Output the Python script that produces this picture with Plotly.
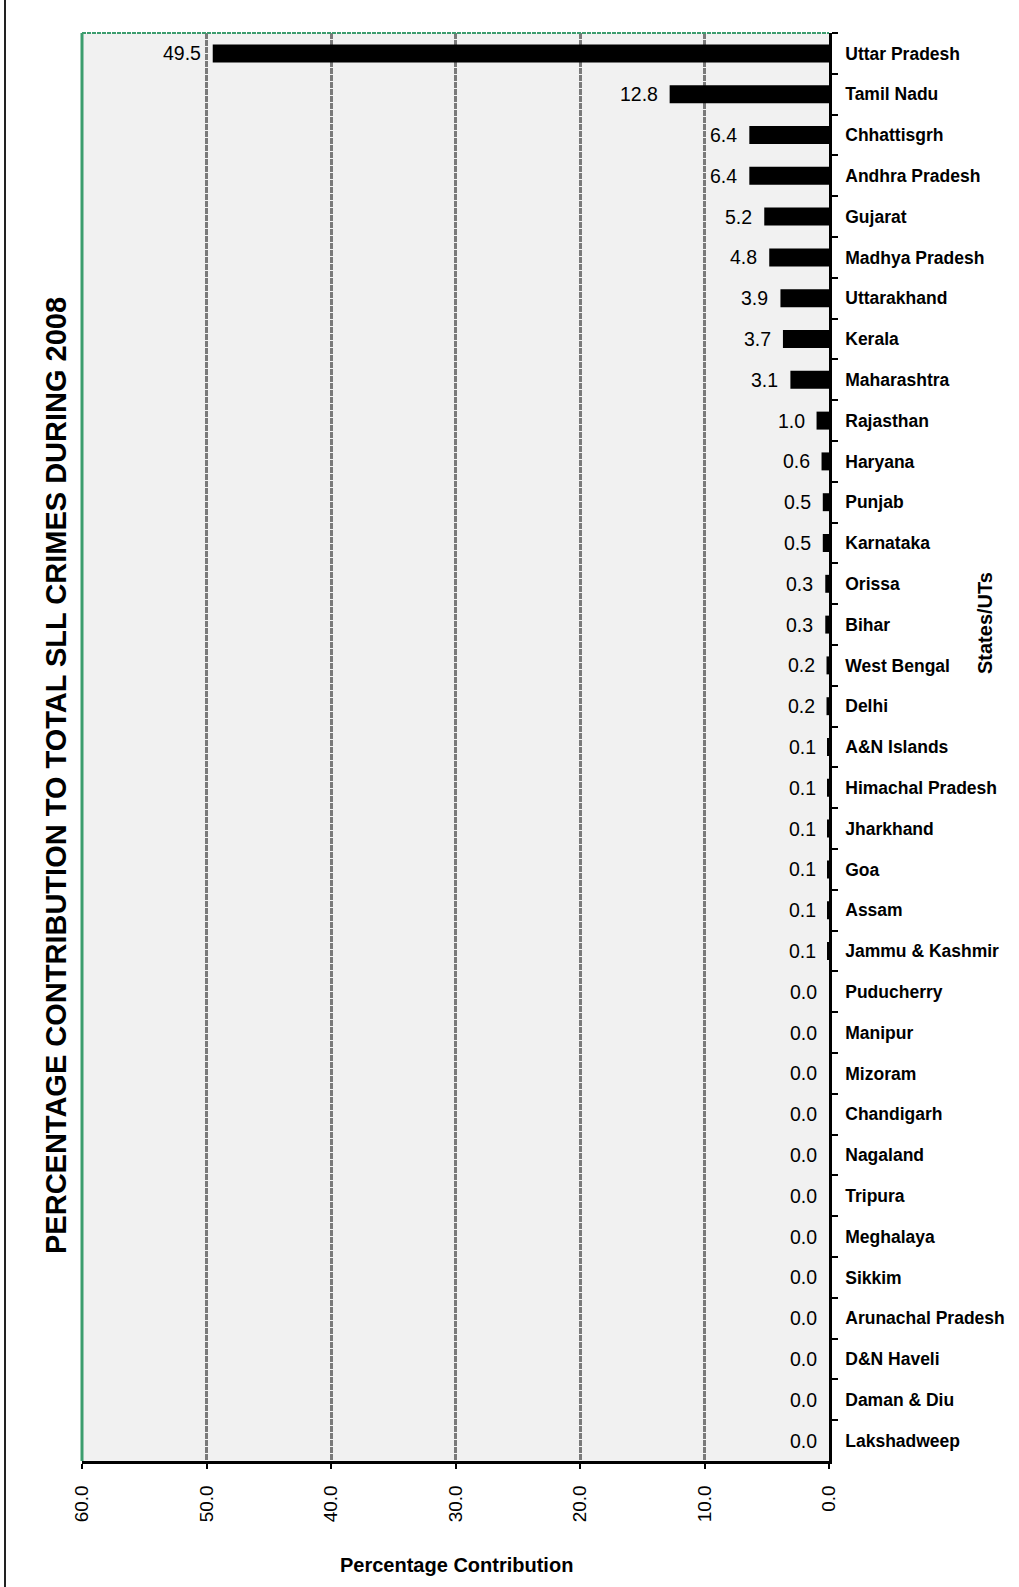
import plotly.graph_objects as go

# Share of total SLL crimes by State/UT, 2008 (%)
states = [
    "Uttar Pradesh", "Tamil Nadu", "Chhattisgrh", "Andhra Pradesh", "Gujarat",
    "Madhya Pradesh", "Uttarakhand", "Kerala", "Maharashtra", "Rajasthan",
    "Haryana", "Punjab", "Karnataka", "Orissa", "Bihar", "West Bengal", "Delhi",
    "A&N Islands", "Himachal Pradesh", "Jharkhand", "Goa", "Assam",
    "Jammu & Kashmir", "Puducherry", "Manipur", "Mizoram", "Chandigarh",
    "Nagaland", "Tripura", "Meghalaya", "Sikkim", "Arunachal Pradesh",
    "D&N Haveli", "Daman & Diu", "Lakshadweep",
]
share = [
    49.5, 12.8, 6.4, 6.4, 5.2, 4.8, 3.9, 3.7, 3.1, 1.0,
    0.6, 0.5, 0.5, 0.3, 0.3, 0.2, 0.2,
    0.1, 0.1, 0.1, 0.1, 0.1, 0.1,
    0.0, 0.0, 0.0, 0.0, 0.0, 0.0, 0.0, 0.0, 0.0, 0.0, 0.0, 0.0,
]
x_ticks = [0, 10, 20, 30, 40, 50, 60]

W, H = 1019, 1587
ML, MR, MT, MB = 82, 190, 33, 126
PW, PH = W - ML - MR, H - MT - MB

FONT = "Arial, Liberation Sans, sans-serif"
GREEN = "#3c9d6e"


def px(x):
    return (x - ML) / PW


def py(y):
    return (H - MB - y) / PH


fig = go.Figure()
fig.add_trace(go.Bar(
    x=share, y=states, orientation="h",
    marker=dict(color="black", line=dict(width=0)),
    width=0.44, hoverinfo="skip",
))

# value labels just beyond each bar end
annotations = [
    dict(x=v, y=s, xref="x", yref="y", text=f"{v:.1f}", showarrow=False,
         xanchor="right", yanchor="middle", xshift=-10,
         font=dict(family=FONT, size=19.5, color="black"))
    for s, v in zip(states, share)
]

annotations += [
    dict(x=px(456), y=py(1565), xref="paper", yref="paper",
         text="<b>Percentage Contribution</b>", showarrow=False,
         xanchor="center", yanchor="middle",
         font=dict(family=FONT, size=20, color="black")),
    dict(x=px(985), y=py(623), xref="paper", yref="paper",
         text="<b>States/UTs</b>", showarrow=False, textangle=-90,
         xanchor="center", yanchor="middle",
         font=dict(family=FONT, size=20, color="black")),
    dict(x=px(56), y=py(776), xref="paper", yref="paper",
         text="<b>PERCENTAGE CONTRIBUTION TO TOTAL SLL CRIMES DURING 2008</b>",
         showarrow=False, textangle=-90,
         xanchor="center", yanchor="middle",
         font=dict(family=FONT, size=29, color="black")),
]

shapes = [
    # dashed green top border of the plot area
    dict(type="line", xref="paper", yref="paper", x0=0, x1=1, y0=1, y1=1,
         line=dict(color=GREEN, width=2, dash="4px,1px")),
    # solid green left border
    dict(type="line", xref="paper", yref="paper", x0=0, x1=0, y0=0, y1=1,
         line=dict(color=GREEN, width=3)),
    # page rule on the far left
    dict(type="line", xref="paper", yref="paper", x0=px(5), x1=px(5),
         y0=py(0), y1=py(H), line=dict(color="#222222", width=2)),
]

fig.update_layout(
    width=W, height=H,
    margin=dict(l=ML, r=MR, t=MT, b=MB, pad=0),
    paper_bgcolor="white",
    plot_bgcolor="#f1f1f1",
    showlegend=False,
    annotations=annotations,
    shapes=shapes,
    xaxis=dict(
        range=[60, 0], autorange=False,
        tickvals=x_ticks, ticktext=[f"{t:.1f}" for t in x_ticks],
        tickangle=-90,
        ticks="outside", ticklen=5, tickwidth=2, tickcolor="black",
        showline=True, linecolor="black", linewidth=2.5,
        showgrid=True, gridcolor="#7a7a7a", gridwidth=2.5, griddash="6px,1px",
        zeroline=False, automargin=False,
        tickfont=dict(family=FONT, size=19, color="black"),
        ticklabelstandoff=9,
    ),
    yaxis=dict(
        side="right",
        categoryorder="array", categoryarray=states,
        range=[len(states) - 0.5, -0.5], autorange=False,
        tickson="boundaries",
        ticks="outside", ticklen=6, tickwidth=2, tickcolor="black",
        showline=True, linecolor="black", linewidth=2.5,
        showgrid=False, zeroline=False, automargin=False,
        tickfont=dict(family=FONT, size=17.5, color="black", weight="bold"),
        ticklabelstandoff=10,
    ),
)

fig.write_html("out.html")
